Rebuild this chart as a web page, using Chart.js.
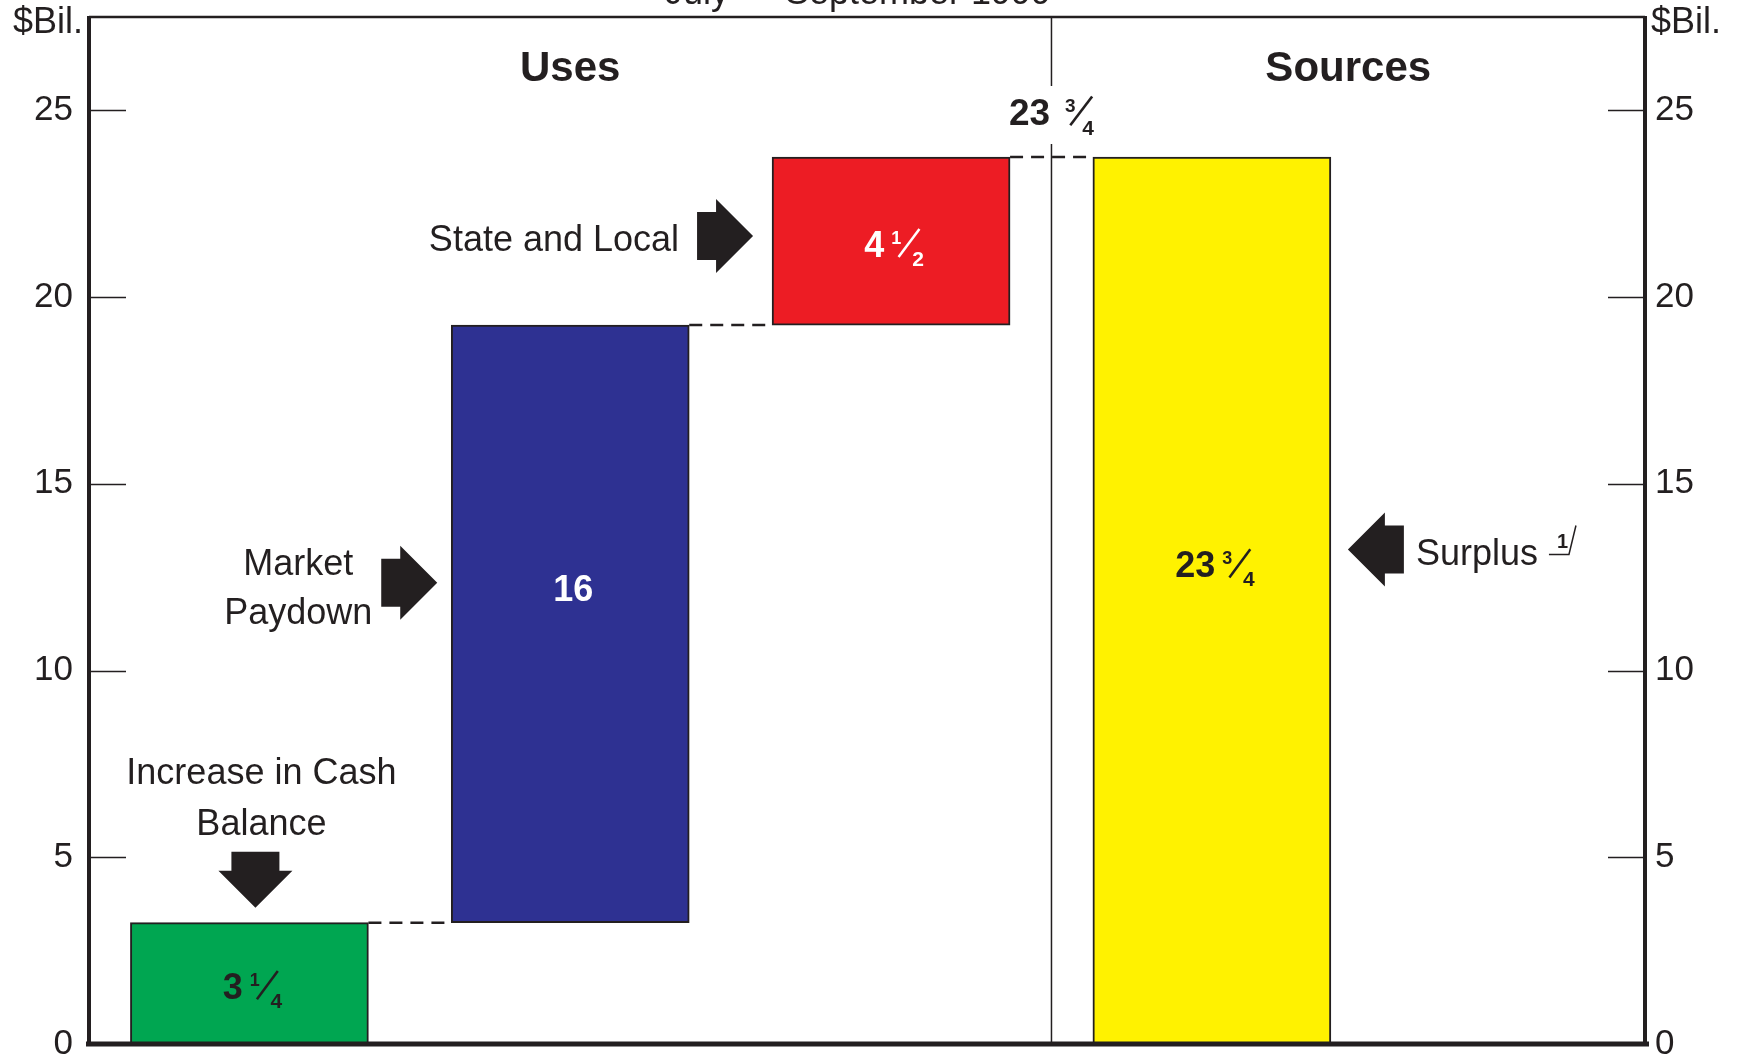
<!DOCTYPE html>
<html>
<head>
<meta charset="utf-8">
<title>Uses and Sources</title>
<script src="https://cdn.jsdelivr.net/npm/chart.js@4.4.1/dist/chart.umd.min.js"></script>
<style>
  html, body { margin: 0; padding: 0; background: #fff; }
  canvas { display: block; }
</style>
</head>
<body>
<canvas id="usesChart" width="1742" height="1062"></canvas>
<script>
const periodLabel = 'July \u2014 September 1999';
const sectionTitles = ['Uses', 'Sources'];
const unitLabel = '$Bil.';

const useLabels = [['Increase in Cash', 'Balance'], ['Market', 'Paydown'], ['State and Local']];
const useValues = [3.25, 16, 4.5];
const sourceLabels = ['Surplus'];
const sourceValues = [23.75];

const yTicks = [0, 5, 10, 15, 20, 25];
const yMax = 27.5;

const barColors = ['#00a651', '#2e3192', '#ed1c24', '#fff200'];
const valueColors = ['#231f20', '#ffffff', '#ffffff', '#231f20'];
const ink = '#231f20';
const fontFamily = '"Liberation Sans", Arial, Helvetica, sans-serif';

// floating bars: uses climb on top of each other, sources start again from zero
const bars = [];
let usesTotal = 0;
useValues.forEach((v, i) => {
    bars.push({ x: i, y: [usesTotal, usesTotal + v] });
    usesTotal += v;
});
let sourcesTotal = 0;
sourceValues.forEach((v, i) => {
    bars.push({ x: useValues.length + i, y: [sourcesTotal, sourcesTotal + v] });
    sourcesTotal += v;
});

// fraction layouts: [gap, slash start, slash end, denominator x] as parts of the font size
const barFraction = [7, 0.2, 0.78, 0.58];
const totalFraction = [15, 0.14, 0.73, 0.46];

// whole number with a small stacked fraction (quarters)
function drawFraction(ctx, value, cx, cy, size, color, layout) {
    const [gap, s0, s1, dx] = layout;
    const whole = Math.floor(value);
    const quarters = Math.round((value - whole) * 4);
    let num = quarters, den = 4;
    if (quarters === 2) { num = 1; den = 2; }
    ctx.save();
    ctx.fillStyle = color;
    ctx.strokeStyle = color;
    ctx.textAlign = 'left';
    ctx.textBaseline = 'alphabetic';
    ctx.font = 'bold ' + size + 'px ' + fontFamily;
    const wholeText = String(whole);
    const ww = ctx.measureText(wholeText).width;
    const total = ww + (num ? gap + (dx + 0.32) * size : 0);
    const x0 = cx - total / 2;
    const base = cy + 0.358 * size;
    ctx.fillText(wholeText, x0, base);
    if (num) {
        const fx = x0 + ww + gap;
        ctx.font = 'bold ' + Math.round(size * 0.5) + 'px ' + fontFamily;
        ctx.fillText(String(num), fx, base - 0.36 * size);
        ctx.lineWidth = Math.max(1.5, size * 0.07);
        ctx.beginPath();
        ctx.moveTo(fx + s0 * size, base);
        ctx.lineTo(fx + s1 * size, base - 0.78 * size);
        ctx.stroke();
        ctx.font = 'bold ' + Math.round(size * 0.57) + 'px ' + fontFamily;
        ctx.fillText(String(den), fx + dx * size, base + 0.25 * size);
    }
    ctx.restore();
}

// fat block arrow, tip at (x, y)
function blockArrow(ctx, x, y, dir) {
    const headLen = 37, headHalf = 37, bodyLen = 19, bodyHalf = 24;
    const shape = [
        [0, 0], [-headLen, -headHalf], [-headLen, -bodyHalf],
        [-headLen - bodyLen, -bodyHalf], [-headLen - bodyLen, bodyHalf],
        [-headLen, bodyHalf], [-headLen, headHalf]
    ];
    ctx.save();
    ctx.fillStyle = ink;
    ctx.beginPath();
    shape.forEach(([a, b], i) => {
        let px, py;
        if (dir === 'right') { px = x + a; py = y + b; }
        else if (dir === 'left') { px = x - a; py = y + b; }
        else { px = x + b; py = y + a; }
        if (i === 0) ctx.moveTo(px, py); else ctx.lineTo(px, py);
    });
    ctx.closePath();
    ctx.fill();
    ctx.restore();
}

function textLines(ctx, lines, x, y, align, spacing) {
    ctx.save();
    ctx.fillStyle = ink;
    ctx.font = '36px ' + fontFamily;
    ctx.textAlign = align;
    ctx.textBaseline = 'middle';
    lines.forEach((line, i) => ctx.fillText(line, x, y + i * spacing));
    ctx.restore();
}

const decorations = {
    id: 'decorations',
    afterDraw(chart) {
        const ctx = chart.ctx;
        const area = chart.chartArea;
        const xs = chart.scales.x;
        const ys = chart.scales.y;
        const els = chart.getDatasetMeta(0).data;
        const splitX = xs.getPixelForValue(useValues.length - 0.5);

        ctx.save();

        // period line, mostly cut off by the top edge
        ctx.fillStyle = ink;
        ctx.font = '36px ' + fontFamily;
        ctx.textAlign = 'center';
        ctx.textBaseline = 'alphabetic';
        ctx.fillText(periodLabel, 858, 4);

        // unit labels above both axes
        ctx.font = '36px ' + fontFamily;
        ctx.textBaseline = 'middle';
        ctx.textAlign = 'right';
        ctx.fillText(unitLabel, area.left - 6, 23);
        ctx.textAlign = 'left';
        ctx.fillText(unitLabel, area.right + 6, 23);

        // section headings
        ctx.font = 'bold 42px ' + fontFamily;
        ctx.textAlign = 'center';
        ctx.fillText(sectionTitles[0], (area.left + splitX) / 2, area.top + 52);
        ctx.fillText(sectionTitles[1], (splitX + area.right) / 2, area.top + 52);

        // inward tick marks on both axes
        ctx.strokeStyle = ink;
        ctx.lineWidth = 1.5;
        yTicks.forEach(v => {
            if (v === 0) return;
            const py = Math.round(ys.getPixelForValue(v)) + 0.5;
            ctx.beginPath();
            ctx.moveTo(area.left, py);
            ctx.lineTo(area.left + 37, py);
            ctx.moveTo(area.right - 37, py);
            ctx.lineTo(area.right, py);
            ctx.stroke();
        });

        // total over the divider
        const totalY = ys.getPixelForValue(usesTotal) - 45;
        drawFraction(ctx, usesTotal, splitX, totalY, 37, ink, totalFraction);

        // divider between uses and sources
        ctx.lineWidth = 1.5;
        ctx.beginPath();
        ctx.moveTo(splitX, area.top);
        ctx.lineTo(splitX, totalY - 26);
        ctx.moveTo(splitX, totalY + 32);
        ctx.lineTo(splitX, area.bottom);
        ctx.stroke();

        // dashed steps from each bar top to the next bar
        ctx.setLineDash([13, 8]);
        ctx.lineWidth = 2.5;
        for (let i = 0; i < els.length - 1; i++) {
            const a = els[i], b = els[i + 1];
            ctx.beginPath();
            ctx.moveTo(a.x + a.width / 2, a.y);
            ctx.lineTo(b.x - b.width / 2, a.y);
            ctx.stroke();
        }
        ctx.setLineDash([]);

        // frame
        ctx.lineWidth = 2.5;
        ctx.beginPath();
        ctx.moveTo(area.left, area.top);
        ctx.lineTo(area.right, area.top);
        ctx.stroke();
        ctx.lineWidth = 4;
        ctx.beginPath();
        ctx.moveTo(area.left, area.top - 1);
        ctx.lineTo(area.left, area.bottom);
        ctx.moveTo(area.right, area.top - 1);
        ctx.lineTo(area.right, area.bottom);
        ctx.stroke();
        ctx.lineWidth = 5;
        ctx.beginPath();
        ctx.moveTo(area.left - 3, area.bottom);
        ctx.lineTo(area.right + 4, area.bottom);
        ctx.stroke();

        // value labels inside the bars
        els.forEach((el, i) => {
            const mid = (el.y + el.base) / 2;
            const tall = el.base - el.y > 400;
            const value = bars[i].y[1] - bars[i].y[0];
            drawFraction(ctx, value, el.x + 3, tall ? mid - 36 : mid + 3, 36, valueColors[i], barFraction);
        });

        // callouts
        const cash = els[0];
        blockArrow(ctx, cash.x + 6, cash.y - 15, 'down');
        textLines(ctx, useLabels[0], cash.x + 12, cash.y - 149, 'center', 51);

        const market = els[1];
        const mLeft = market.x - market.width / 2;
        const mTip = (market.y + market.base) / 2 - 41;
        blockArrow(ctx, mLeft - 14, mTip, 'right');
        textLines(ctx, useLabels[1], mLeft - 153, mTip - 18, 'center', 49);

        const state = els[2];
        const sLeft = state.x - state.width / 2;
        const sMid = (state.y + state.base) / 2;
        blockArrow(ctx, sLeft - 19, sMid - 5, 'right');
        textLines(ctx, useLabels[2], sLeft - 93, sMid, 'right', 50);

        const surplus = els[3];
        const uRight = surplus.x + surplus.width / 2;
        const uTip = (surplus.y + surplus.base) / 2 - 51;
        blockArrow(ctx, uRight + 17, uTip, 'left');
        const ty = uTip + 6;
        const tx0 = uRight + 85;
        textLines(ctx, sourceLabels, tx0, ty, 'left', 50);
        ctx.font = '36px ' + fontFamily;
        const tx = tx0 + ctx.measureText(sourceLabels[0]).width;
        // footnote marker
        ctx.fillStyle = ink;
        ctx.font = 'bold 20px ' + fontFamily;
        ctx.textAlign = 'left';
        ctx.textBaseline = 'alphabetic';
        ctx.fillText('1', tx + 19, ty - 8);
        ctx.lineWidth = 1.5;
        ctx.beginPath();
        ctx.moveTo(tx + 11, ty - 1);
        ctx.lineTo(tx + 31, ty - 1);
        ctx.lineTo(tx + 38, ty - 30);
        ctx.stroke();

        ctx.restore();
    }
};

const axisFit = (width) => (scale) => {
    scale.width = width;
    scale.paddingTop = 0;
    scale.paddingBottom = 0;
};

const tickSetter = (scale) => {
    scale.ticks = yTicks.map(v => ({ value: v }));
};

new Chart(document.getElementById('usesChart'), {
    type: 'bar',
    data: {
        datasets: [{
            data: bars,
            backgroundColor: barColors,
            borderColor: ink,
            borderWidth: 2,
            borderSkipped: false,
            barThickness: 238
        }]
    },
    options: {
        responsive: false,
        animation: false,
        layout: { padding: { top: 17, bottom: 18, left: 0, right: 0 } },
        plugins: {
            legend: { display: false },
            tooltip: { enabled: false }
        },
        scales: {
            x: {
                type: 'linear',
                display: false,
                offset: false,
                min: -0.5,
                max: 4.35
            },
            y: {
                position: 'left',
                min: 0,
                max: yMax,
                grid: { display: false, drawTicks: false },
                border: { display: false },
                ticks: { padding: 16, color: ink, font: { family: fontFamily, size: 35 } },
                afterBuildTicks: tickSetter,
                afterFit: axisFit(89)
            },
            y2: {
                position: 'right',
                min: 0,
                max: yMax,
                grid: { display: false, drawTicks: false },
                border: { display: false },
                ticks: { padding: 10, color: ink, font: { family: fontFamily, size: 35 } },
                afterBuildTicks: tickSetter,
                afterFit: axisFit(97)
            }
        }
    },
    plugins: [decorations]
});
</script>
</body>
</html>
